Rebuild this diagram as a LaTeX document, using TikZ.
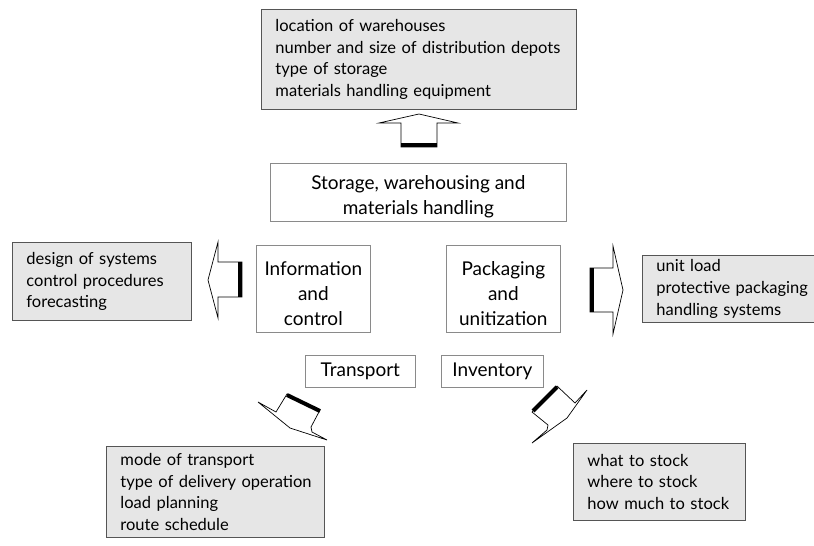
\documentclass[tikz,border=0pt]{standalone}
\usepackage{fontspec}
\setmainfont{Lato}
\definecolor{boxfill}{HTML}{E6E6E6}
\definecolor{boxline}{HTML}{555555}
\definecolor{midline}{HTML}{8A8A8A}
\hyphenpenalty=10000
\exhyphenpenalty=10000
\newcommand\oneline[1]{\mbox{#1}}
\newcommand\pushdown[1]{\rule{0pt}{#1}}
\begin{document}
\begin{tikzpicture}[x=1pt,y=-1pt,
  infobox/.style={draw=boxline, fill=boxfill, line width=0.9pt, anchor=north west,
    inner xsep=14pt, inner ysep=0pt, align=left,
    font=\fontsize{16.5}{21.7}\selectfont},
  midbox/.style={draw=midline, fill=white, line width=0.7pt, anchor=north west,
    inner sep=0pt, align=center, font=\fontsize{19}{25}\selectfont},
  blockarrow/.style={draw=black, fill=white, line width=0.7pt, line join=miter},
  basebar/.style={draw=black, line width=4pt}]
\useasboundingbox (0,0) rectangle (814,546);

% information boxes
\node[infobox, minimum width=315pt, minimum height=100pt, text width=287pt] (top) at (261,9)
  {\oneline{location of warehouses}\\\oneline{number and size of distribution depots}\\\oneline{type of storage}\\\oneline{materials handling equipment}};
\node[infobox, minimum width=179pt, minimum height=78pt, text width=151pt] (left) at (12,242)
  {\oneline{design of systems}\\\oneline{control procedures}\\\oneline{forecasting}};
\node[infobox, minimum width=176pt, minimum height=67pt, text width=148pt] (right) at (642,255)
  {\oneline{unit load}\\\oneline{protective packaging}\\\oneline{handling systems}};
\node[infobox, minimum width=218pt, minimum height=91pt, text width=190pt] (botleft) at (106,446)
  {\oneline{mode of transport}\\\oneline{type of delivery operation}\\\oneline{load planning}\\\oneline{route schedule}};
\node[infobox, minimum width=172pt, minimum height=77pt, text width=144pt] (botright) at (573,443)
  {\oneline{what to stock}\\\oneline{where to stock}\\\oneline{how much to stock}};

% central function boxes
\node[midbox, minimum width=296pt, minimum height=58pt] (storage) at (270,163)
  {\pushdown{22pt}Storage, warehousing and\\materials handling};
\node[midbox, minimum width=114pt, minimum height=87pt] (info) at (256,245)
  {\pushdown{24pt}Information\\and\\control};
\node[midbox, minimum width=114pt, minimum height=87pt] (pack) at (446,245)
  {\pushdown{24pt}Packaging\\and\\unitization};
\node[midbox, minimum width=110pt, minimum height=32pt] (transport) at (305,355)
  {Transport};
\node[midbox, minimum width=102pt, minimum height=32pt] (inventory) at (441,355)
  {Inventory};

% up arrow
\draw[blockarrow] (401,147) -- (401,123) -- (379,123) -- (419,114) -- (458,123)
  -- (437,123) -- (437,147) -- cycle;
\draw[basebar] (401,145) -- (437,145);

% left arrow
\draw[blockarrow] (242,262) -- (218,262) -- (218,242) -- (208,280) -- (218,318)
  -- (218,297) -- (242,297) -- cycle;
\draw[basebar] (240,262) -- (240,297);

% right arrow
\draw[blockarrow] (590,268) -- (613,268) -- (613,246) -- (623,290) -- (613,334)
  -- (613,312) -- (590,312) -- cycle;
\draw[basebar] (592,268) -- (592,312);

% bottom-left arrow
\draw[blockarrow] (287,394) -- (276,412) -- (258,402) -- (290,428) -- (327,440)
  -- (312,432) -- (311,427) -- (320,410) -- cycle;
\draw[basebar] (287,395) -- (320,411);

% bottom-right arrow
\draw[blockarrow] (557,386) -- (575,403) -- (587,390) -- (567,418) -- (532,443)
  -- (547,430) -- (548,425) -- (532,412) -- cycle;
\draw[basebar] (533,411) -- (557,387);
\end{tikzpicture}
\end{document}
